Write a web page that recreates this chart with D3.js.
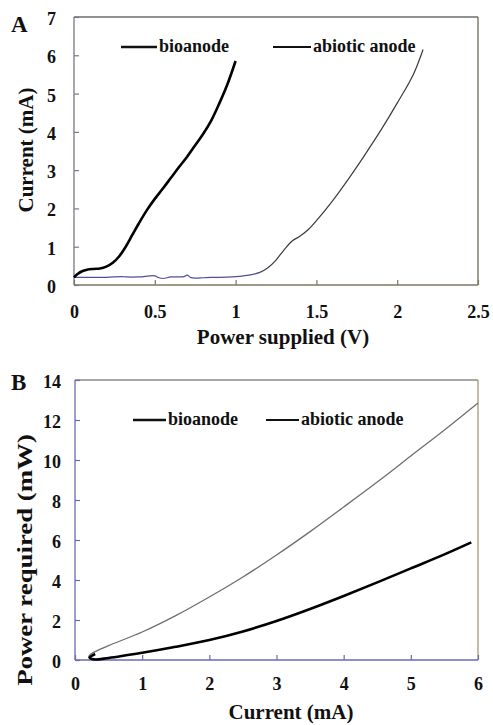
<!DOCTYPE html>
<html>
<head>
<meta charset="utf-8">
<script src="https://cdn.jsdelivr.net/npm/d3@7"></script>
<style>
  body { margin: 0; background: #fff; }
  svg { display: block; }
  text { font-family: "Liberation Serif", "Times New Roman", serif; font-weight: bold; fill: #111; }
</style>
</head>
<body>
<svg id="fig" width="493" height="725"></svg>
<script>
// ---- Panel A: current vs. applied voltage ----
const bioVoltageA   = [0, 0.02, 0.05, 0.08, 0.12, 0.16, 0.2, 0.24, 0.28, 0.32, 0.36, 0.4, 0.45, 0.5, 0.55, 0.6, 0.65, 0.7, 0.75, 0.8, 0.85, 0.9, 0.95, 1.0];
const bioCurrentA   = [0.2, 0.28, 0.36, 0.4, 0.42, 0.43, 0.48, 0.58, 0.75, 1.0, 1.3, 1.6, 1.95, 2.25, 2.52, 2.8, 3.08, 3.35, 3.65, 3.95, 4.3, 4.75, 5.25, 5.85];
const abioVoltageA  = [0, 0.1, 0.2, 0.3, 0.32, 0.4, 0.5, 0.52, 0.55, 0.6, 0.68, 0.7, 0.72, 0.75, 0.8, 0.85, 0.9, 1.0, 1.05, 1.1, 1.15, 1.2, 1.25, 1.3, 1.35, 1.4, 1.45, 1.5, 1.6, 1.7, 1.8, 1.9, 2.0, 2.1, 2.16];
const abioCurrentA  = [0.2, 0.2, 0.2, 0.22, 0.21, 0.21, 0.24, 0.2, 0.17, 0.21, 0.22, 0.26, 0.2, 0.18, 0.19, 0.2, 0.2, 0.22, 0.24, 0.27, 0.33, 0.45, 0.65, 0.92, 1.15, 1.28, 1.45, 1.68, 2.2, 2.78, 3.4, 4.05, 4.75, 5.5, 6.15];
const xTicksA = [0, 0.5, 1, 1.5, 2, 2.5];
const yTicksA = [0, 1, 2, 3, 4, 5, 6, 7];

// ---- Panel B: power required vs. current ----
const bioCurrentB  = [0.3, 0.22, 0.28, 0.5, 1, 1.5, 2, 2.5, 3, 3.5, 4, 4.5, 5, 5.5, 5.9];
const bioPowerB    = [0.3, 0.12, 0.03, 0.1, 0.36, 0.66, 1.0, 1.43, 1.95, 2.55, 3.2, 3.88, 4.58, 5.28, 5.88];
const abioCurrentB = [0.2, 0.22, 0.3, 0.5, 1, 1.5, 2, 2.5, 3, 3.5, 4, 4.5, 5, 5.5, 6];
const abioPowerB   = [0.1, 0.25, 0.42, 0.72, 1.4, 2.22, 3.15, 4.15, 5.25, 6.42, 7.65, 8.9, 10.2, 11.5, 12.85];
const xTicksB = [0, 1, 2, 3, 4, 5, 6];
const yTicksB = [0, 2, 4, 6, 8, 10, 12, 14];

const seriesNames = ["bioanode", "abiotic anode"];

const svg = d3.select("#fig");
const defs = svg.append("defs");

function zip(xs, ys) { return xs.map((v, i) => [v, ys[i]]); }

function panel(cfg) {
  const g = svg.append("g");
  const x = d3.scaleLinear().domain(cfg.xDomain).range([cfg.left, cfg.right]);
  const y = d3.scaleLinear().domain(cfg.yDomain).range([cfg.bottom, cfg.top]);

  // frame
  const frame = [
    [cfg.left, cfg.top, cfg.right, cfg.top, cfg.colTop],
    [cfg.right, cfg.top, cfg.right, cfg.bottom, cfg.colRight],
    [cfg.left, cfg.bottom, cfg.right, cfg.bottom, cfg.colBottom],
    [cfg.left, cfg.top, cfg.left, cfg.bottom, cfg.colLeft]
  ];
  g.selectAll("line.frame").data(frame).join("line")
    .attr("class", "frame")
    .attr("x1", d => d[0]).attr("y1", d => d[1])
    .attr("x2", d => d[2]).attr("y2", d => d[3])
    .attr("stroke", d => d[4]).attr("stroke-width", 1.3);

  // axes
  const ax = g.append("g").attr("transform", `translate(0,${cfg.bottom})`)
    .call(d3.axisBottom(x).tickValues(cfg.xTicks).tickFormat(d => String(d))
      .tickSize(-5).tickPadding(cfg.xPad));
  ax.select(".domain").remove();
  ax.selectAll("line").attr("stroke", cfg.colBottom).attr("stroke-width", 1.2);
  ax.selectAll("text").attr("font-size", cfg.tickFont).attr("fill", "#111")
    .attr("font-family", null);

  const ay = g.append("g").attr("transform", `translate(${cfg.left},0)`)
    .call(d3.axisLeft(y).tickValues(cfg.yTicks).tickFormat(d => String(d))
      .tickSize(-5).tickPadding(cfg.yPad));
  ay.select(".domain").remove();
  ay.selectAll("line").attr("stroke", cfg.colLeft).attr("stroke-width", 1.2);
  ay.selectAll("text").attr("font-size", cfg.tickFont).attr("fill", "#111")
    .attr("font-family", null).attr("dy", "0.42em");
  svg.selectAll(".tick text").attr("font-weight", "bold");

  // curves
  const line = d3.line().x(d => x(d[0])).y(d => y(d[1])).curve(d3.curveCatmullRom.alpha(0.5));
  g.append("path").datum(zip(cfg.abio[0], cfg.abio[1]))
    .attr("d", line).attr("fill", "none")
    .attr("stroke", cfg.abioStroke).attr("stroke-width", cfg.abioWidth);
  g.append("path").datum(zip(cfg.bio[0], cfg.bio[1]))
    .attr("d", line).attr("fill", "none")
    .attr("stroke", "#000").attr("stroke-width", 2.6).attr("stroke-linejoin", "round");

  // legend
  cfg.legend.forEach((L, i) => {
    g.append("line").attr("x1", L.x1).attr("x2", L.x2).attr("y1", cfg.legendY).attr("y2", cfg.legendY)
      .attr("stroke", "#111").attr("stroke-width", i === 0 ? 2.6 : 2);
    g.append("text").attr("x", L.x2 + 2).attr("y", cfg.legendY + 5)
      .attr("font-size", cfg.legendFont).attr("font-weight", "bold").text(seriesNames[i]);
  });

  // titles
  g.append("text").attr("x", cfg.xTitleX).attr("y", cfg.xTitleY).attr("text-anchor", "middle")
    .attr("font-size", cfg.xTitleFont).text(cfg.xTitle);
  g.append("text")
    .attr("transform", `translate(${cfg.yTitleX},${cfg.yTitleY}) rotate(-90) scale(${cfg.yTitleStretch},1)`)
    .attr("text-anchor", "middle").attr("font-size", cfg.yTitleFont).text(cfg.yTitle);
  g.append("text").attr("x", 11).attr("y", cfg.letterY).attr("font-size", 23).text(cfg.letter);
}

// gradient for the abiotic trace in A (blue along the baseline, dark grey on the rise)
const xA = d3.scaleLinear().domain([0, 2.5]).range([74, 478]);
const grad = defs.append("linearGradient").attr("id", "abioGrad")
  .attr("gradientUnits", "userSpaceOnUse")
  .attr("x1", xA(0)).attr("x2", xA(2.5)).attr("y1", 0).attr("y2", 0);
grad.append("stop").attr("offset", 0).attr("stop-color", "#4f4f9c");
grad.append("stop").attr("offset", 1.12 / 2.5).attr("stop-color", "#4f4f9c");
grad.append("stop").attr("offset", 1.2 / 2.5).attr("stop-color", "#3a3a3a");
grad.append("stop").attr("offset", 1).attr("stop-color", "#3a3a3a");

panel({
  left: 74, right: 478, top: 17, bottom: 285,
  xDomain: [0, 2.5], yDomain: [0, 7],
  xTicks: xTicksA, yTicks: yTicksA,
  colTop: "#6c6c6c", colRight: "#6f6a55", colBottom: "#7d7862", colLeft: "#77778a",
  tickFont: 18, xPad: 20, yPad: 18,
  bio: [bioVoltageA, bioCurrentA], abio: [abioVoltageA, abioCurrentA],
  abioStroke: "url(#abioGrad)", abioWidth: 1.2,
  legendY: 47, legendFont: 18,
  legend: [{ x1: 121, x2: 157 }, { x1: 273, x2: 311 }],
  xTitle: "Power supplied (V)", xTitleX: 283, xTitleY: 344, xTitleFont: 21,
  yTitle: "Current (mA)", yTitleX: 33, yTitleY: 150, yTitleFont: 21, yTitleStretch: 1,
  letter: "A", letterY: 32
});

panel({
  left: 75, right: 478, top: 380, bottom: 660,
  xDomain: [0, 6], yDomain: [0, 14],
  xTicks: xTicksB, yTicks: yTicksB,
  colTop: "#8a8a8a", colRight: "#a39b72", colBottom: "#6a6ab4", colLeft: "#6a6ab4",
  tickFont: 18, xPad: 17, yPad: 14,
  bio: [bioCurrentB, bioPowerB], abio: [abioCurrentB, abioPowerB],
  abioStroke: "#6e6e6e", abioWidth: 1.3,
  legendY: 420, legendFont: 18,
  legend: [{ x1: 133, x2: 166 }, { x1: 266, x2: 299 }],
  xTitle: "Current (mA)", xTitleX: 291, xTitleY: 719, xTitleFont: 21,
  yTitle: "Power required (mW)", yTitleX: 32, yTitleY: 560, yTitleFont: 22, yTitleStretch: 1.22,
  letter: "B", letterY: 390
});
</script>
</body>
</html>
